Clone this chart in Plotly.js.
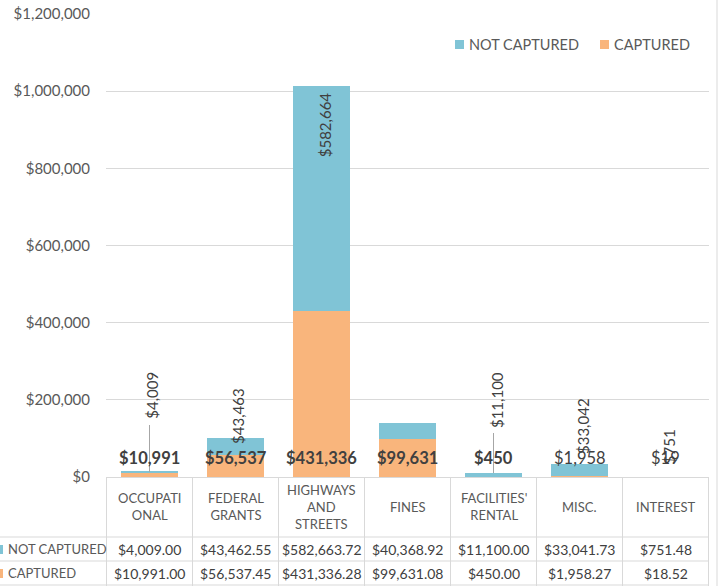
<!DOCTYPE html>
<html>
<head>
<meta charset="utf-8">
<script src="https://cdn.plot.ly/plotly-3.0.1.min.js"></script>
<style>
  body { margin: 0; background: #fff; }
  #myDiv { width: 720px; height: 586px; }
</style>
</head>
<body>
<div id="myDiv"></div>
<script>
var categories = ['OCCUPATIONAL', 'FEDERAL GRANTS', 'HIGHWAYS AND STREETS', 'FINES', "FACILITIES' RENTAL", 'MISC.', 'INTEREST'];
var headerLabels = ['OCCUPATI<br>ONAL', 'FEDERAL<br>GRANTS', 'HIGHWAYS<br>AND<br>STREETS', 'FINES', "FACILITIES'<br>RENTAL", 'MISC.', 'INTEREST'];
var notCaptured = [4009.00, 43462.55, 582663.72, 40368.92, 11100.00, 33041.73, 751.48];
var captured = [10991.00, 56537.45, 431336.28, 99631.08, 450.00, 1958.27, 18.52];
var seriesNames = ['NOT CAPTURED', 'CAPTURED'];

var blue = '#80c4d6';
var orange = '#f9b57c';
var grid = '#d9d9d9';
var font = 'Lato, "Liberation Sans", sans-serif';

// the not-captured labels were dragged around in the original, offsets in px from bar top
var ncLabelShift = [76, 22, -39, null, 72, 37, 30];
var capBold = [true, true, true, true, true, false, false];

// plot area: left 106, right 709, top 14, bottom 477
function px(x) { return (x - 106) / 603; }
function py(y) { return (477 - y) / 463; }

function money(v) { return '$' + Math.round(v).toLocaleString('en-US'); }
function money2(v) { return '$' + v.toLocaleString('en-US', {minimumFractionDigits: 2, maximumFractionDigits: 2}); }

var trace1 = {
  x: categories,
  y: captured,
  name: seriesNames[1],
  type: 'bar',
  marker: {color: orange},
  hoverinfo: 'none'
};

var trace2 = {
  x: categories,
  y: notCaptured,
  name: seriesNames[0],
  type: 'bar',
  marker: {color: blue},
  hoverinfo: 'none'
};

var annotations = [];
var shapes = [];

function note(o) {
  o.showarrow = false;
  if (!o.yanchor) o.yanchor = 'middle';
  if (!o.xanchor) o.xanchor = 'center';
  annotations.push(o);
}

categories.forEach(function (c, i) {
  // header cell
  note({x: c, xref: 'x', y: py(507), yref: 'paper', text: headerLabels[i],
    font: {family: font, size: 13, color: '#595959'}});
  // table values
  note({x: c, xref: 'x', y: py(549), yref: 'paper', text: money2(notCaptured[i]),
    font: {family: font, size: 14, color: '#404040'}});
  note({x: c, xref: 'x', y: py(573), yref: 'paper', text: money2(captured[i]),
    font: {family: font, size: 14, color: '#404040'}});
  // captured data label near the base
  note({x: c, xref: 'x', y: 0, yref: 'y', yshift: 19,
    text: capBold[i] ? '<b>' + money(captured[i]) + '</b>' : money(captured[i]),
    font: {family: font, size: 16.5, color: '#404040'}});
  // not captured data label, rotated
  if (ncLabelShift[i] !== null) {
    note({x: c, xref: 'x', y: captured[i] + notCaptured[i], yref: 'y',
      yshift: ncLabelShift[i], xshift: 3, textangle: -90,
      text: money(notCaptured[i]),
      font: {family: font, size: 15, color: '#404040'}});
  }
});

// table grid
for (var k = 0; k <= categories.length; k++) {
  shapes.push({type: 'line', xref: 'x', yref: 'paper', x0: k - 0.5, x1: k - 0.5,
    y0: py(477), y1: py(586), line: {color: grid, width: 1}});
}
[537, 561, 585].forEach(function (y) {
  shapes.push({type: 'line', xref: 'paper', yref: 'paper', x0: px(0), x1: 1,
    y0: py(y), y1: py(y), line: {color: grid, width: 1}});
});
// chart border on the right
shapes.push({type: 'line', xref: 'paper', yref: 'paper', x0: px(717), x1: px(717),
  y0: py(0), y1: py(586), line: {color: grid, width: 1}});

// leader lines
shapes.push({type: 'line', xref: 'x', yref: 'paper', x0: 0, x1: 0,
  y0: py(425), y1: py(472), line: {color: '#a6a6a6', width: 1}});
shapes.push({type: 'line', xref: 'x', yref: 'paper', x0: 4, x1: 4,
  y0: py(433), y1: py(473), line: {color: '#a6a6a6', width: 1}});

// table row keys
note({x: px(6), xref: 'paper', y: py(549), yref: 'paper', xanchor: 'left',
  text: seriesNames[0], font: {family: font, size: 13, color: '#595959'}});
note({x: px(6), xref: 'paper', y: py(573), yref: 'paper', xanchor: 'left',
  text: seriesNames[1], font: {family: font, size: 13, color: '#595959'}});
shapes.push({type: 'rect', xref: 'paper', yref: 'paper', x0: px(-3), x1: px(3),
  y0: py(545), y1: py(554), fillcolor: blue, line: {width: 0}});
shapes.push({type: 'rect', xref: 'paper', yref: 'paper', x0: px(-3), x1: px(3),
  y0: py(569), y1: py(578), fillcolor: orange, line: {width: 0}});

// legend
shapes.push({type: 'rect', xref: 'paper', yref: 'paper', x0: px(455), x1: px(464),
  y0: py(40), y1: py(49), fillcolor: blue, line: {width: 0}});
shapes.push({type: 'rect', xref: 'paper', yref: 'paper', x0: px(600), x1: px(609),
  y0: py(40), y1: py(49), fillcolor: orange, line: {width: 0}});
note({x: px(467), xref: 'paper', y: py(44.5), yref: 'paper', xanchor: 'left',
  text: seriesNames[0], font: {family: font, size: 14.5, color: '#595959'}});
note({x: px(612), xref: 'paper', y: py(44.5), yref: 'paper', xanchor: 'left',
  text: seriesNames[1], font: {family: font, size: 14.5, color: '#595959'}});

var layout = {
  width: 720,
  height: 586,
  margin: {l: 106, r: 11, t: 14, b: 109},
  paper_bgcolor: '#fff',
  plot_bgcolor: '#fff',
  barmode: 'stack',
  bargap: 0.34,
  showlegend: false,
  xaxis: {
    type: 'category',
    showticklabels: false,
    showgrid: false,
    showline: true,
    linecolor: grid,
    zeroline: false,
    fixedrange: true
  },
  yaxis: {
    range: [0, 1200000],
    dtick: 200000,
    tickprefix: '$',
    tickformat: ',d',
    showgrid: true,
    gridcolor: grid,
    zeroline: false,
    ticks: 'outside',
    ticklen: 12,
    tickcolor: 'rgba(0,0,0,0)',
    tickfont: {family: font, size: 15, color: '#595959'},
    fixedrange: true
  },
  annotations: annotations,
  shapes: shapes
};

Plotly.newPlot('myDiv', [trace1, trace2], layout, {displayModeBar: false, staticPlot: true});
</script>
</body>
</html>
